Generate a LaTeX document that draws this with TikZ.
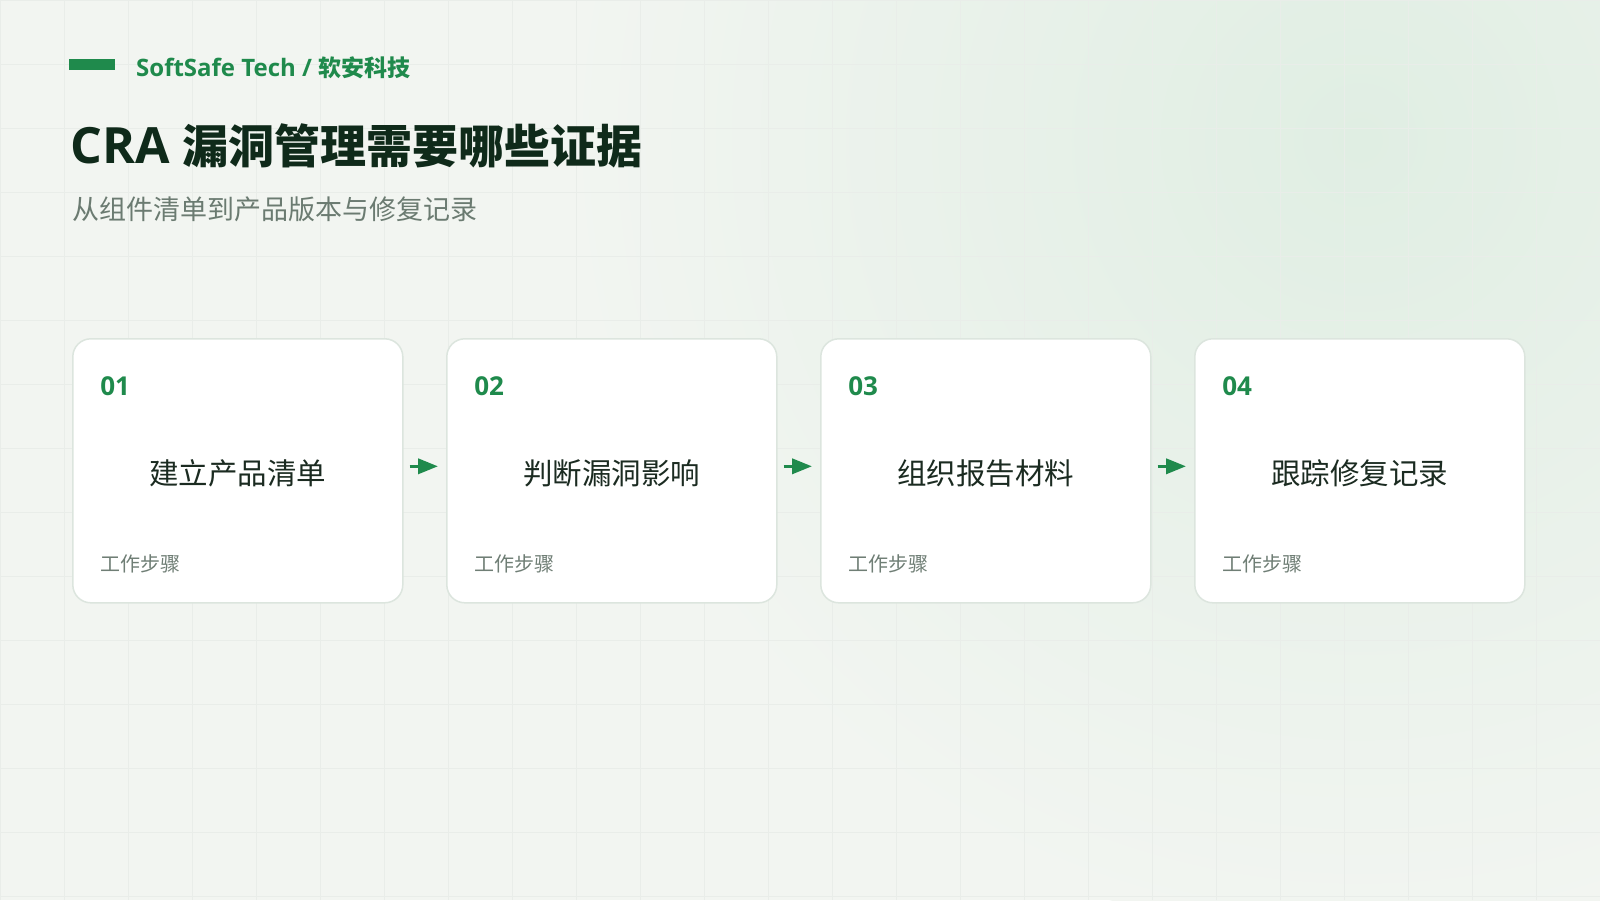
\documentclass[tikz,border=0pt]{standalone}
\usepackage{fontspec}
\setmainfont{Open Sans}
\newfontfamily\cjk{Noto Sans CJK SC}
\usepackage{xcolor}
\usepackage{tikz}
\usetikzlibrary{positioning, arrows.meta}

\definecolor{bgc}{HTML}{F2F5F1}
\definecolor{glowc}{HTML}{E0EEE3}
\definecolor{gridc}{HTML}{E9EDE9}
\definecolor{brand}{HTML}{1F8A4C}
\definecolor{titlec}{HTML}{0F2A1A}
\definecolor{subc}{HTML}{6B7B71}
\definecolor{cardline}{HTML}{DCE5DE}
\definecolor{labelc}{HTML}{1B2B21}
\definecolor{notec}{HTML}{6F7E75}

\begin{document}
\begin{tikzpicture}[x=1pt, y=-1pt,
        card/.style={
                draw=cardline,
                line width=1.5pt,
                fill=white,
                rounded corners=18pt,
                minimum width=330pt,
                minimum height=264pt,
                inner sep=0pt,
        },
        num/.style={anchor=west, inner sep=0pt, text=brand, font=\fontsize{26}{30}\selectfont\bfseries},
        steplabel/.style={inner sep=0pt, text=labelc, font=\cjk\fontsize{29.5}{34}\selectfont},
        note/.style={anchor=west, inner sep=0pt, text=notec, font=\cjk\fontsize{20}{24}\selectfont},
        flow/.style={draw=brand, line width=3.5pt, -{Triangle[length=20pt, width=15pt]}, shorten <=6pt, shorten >=8pt},
        gridline/.style={draw=gridc, line width=0.6pt},
        node distance=42.5pt
        ]
            \useasboundingbox (0,0) rectangle (1600,900);
            \fill[bgc] (0,0) rectangle (1600,900);
            \begin{scope}
                \clip (0,0) rectangle (1600,900);
                \shade[inner color=glowc, outer color=bgc] (1360,140) circle[radius=800pt];
            \end{scope}
            \draw[gridline, step=64pt] (0,0) grid (1600,900);

            \fill[brand] (69,59) rectangle (115,70);
            \node[anchor=base west, inner sep=0pt, text=brand] (brandname) at (136,76)
                {\fontsize{24}{28}\selectfont\bfseries SoftSafe Tech / {\cjk\fontsize{23}{28}\selectfont 软安科技}};
            \node[anchor=base west, inner sep=0pt, text=titlec] (title) at (70,163)
                {\fontsize{50}{58}\selectfont\bfseries CRA {\cjk\fontsize{46}{54}\selectfont 漏洞管理需要哪些证据}};
            \node[anchor=west, inner sep=0pt, text=subc, font=\cjk\fontsize{27}{32}\selectfont] (subtitle) at (72,209)
                {从组件清单到产品版本与修复记录};

            \node[card] (card1) at (237.8,470.8) {};
            \node[card, right=of card1] (card2) {};
            \node[card, right=of card2] (card3) {};
            \node[card, right=of card3] (card4) {};

            \node[num] (num1) at ([xshift=28pt, yshift=-48pt]card1.north west) {01};
            \node[num] (num2) at ([xshift=28pt, yshift=-48pt]card2.north west) {02};
            \node[num] (num3) at ([xshift=28pt, yshift=-48pt]card3.north west) {03};
            \node[num] (num4) at ([xshift=28pt, yshift=-48pt]card4.north west) {04};

            \node[steplabel] (label1) at ([yshift=-2.5pt]card1.center) {建立产品清单};
            \node[steplabel] (label2) at ([yshift=-2.5pt]card2.center) {判断漏洞影响};
            \node[steplabel] (label3) at ([yshift=-2.5pt]card3.center) {组织报告材料};
            \node[steplabel] (label4) at ([yshift=-2.5pt]card4.center) {跟踪修复记录};

            \node[note] (note1) at ([xshift=28pt, yshift=40pt]card1.south west) {工作步骤};
            \node[note] (note2) at ([xshift=28pt, yshift=40pt]card2.south west) {工作步骤};
            \node[note] (note3) at ([xshift=28pt, yshift=40pt]card3.south west) {工作步骤};
            \node[note] (note4) at ([xshift=28pt, yshift=40pt]card4.south west) {工作步骤};

            \draw[flow] ([yshift=4.5pt]card1.east) -- ([yshift=4.5pt]card2.west);
            \draw[flow] ([yshift=4.5pt]card2.east) -- ([yshift=4.5pt]card3.west);
            \draw[flow] ([yshift=4.5pt]card3.east) -- ([yshift=4.5pt]card4.west);
        \end{tikzpicture}
\end{document}
